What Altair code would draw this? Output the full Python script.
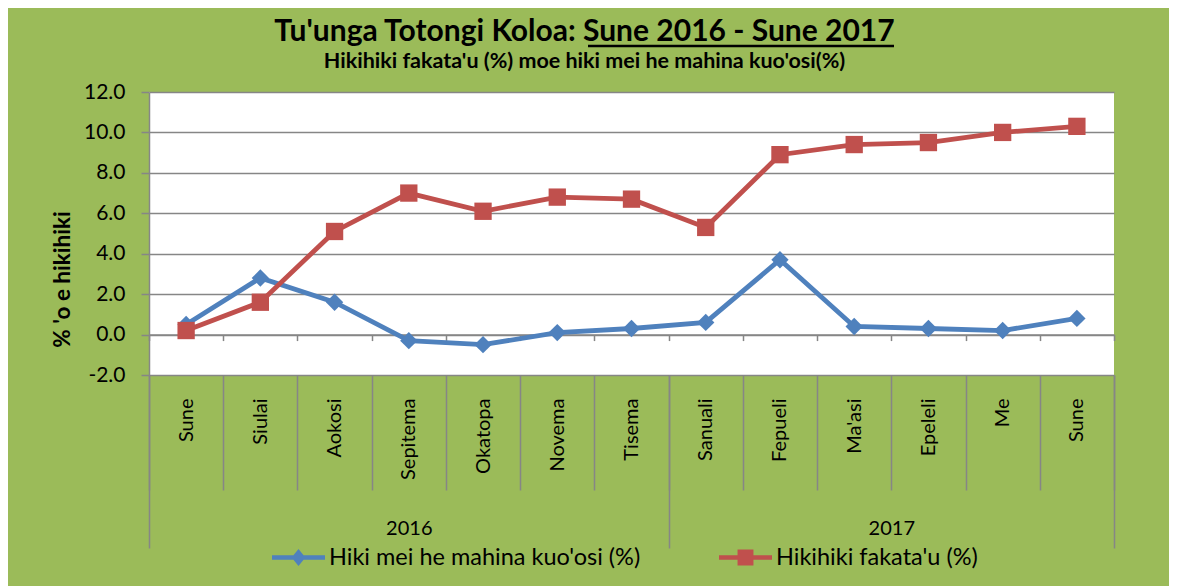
import json
import altair as alt
import pandas as pd

# ---------------- data ----------------
TITLE = "Tu'unga Totongi Koloa: Sune 2016 - Sune 2017"
SUBTITLE = "Hikihiki fakata'u (%) moe hiki mei he mahina kuo'osi(%)"
MONTHS = ["Sune", "Siulai", "Aokosi", "Sepitema", "Okatopa", "Novema", "Tisema",
          "Sanuali", "Fepueli", "Ma'asi", "Epeleli", "Me", "Sune"]
YEARS = ["2016", "2017"]
YEAR_COUNTS = [7, 6]
SERIES = ["Hiki mei he mahina kuo'osi (%)", "Hikihiki fakata'u (%)"]
MONTHLY = [0.5, 2.8, 1.6, -0.3, -0.5, 0.1, 0.3, 0.6, 3.7, 0.4, 0.3, 0.2, 0.8]
ANNUAL = [0.2, 1.6, 5.1, 7.0, 6.1, 6.8, 6.7, 5.3, 8.9, 9.4, 9.5, 10.0, 10.3]
Y_TICKS = [-2, 0, 2, 4, 6, 8, 10, 12]

rows = []
for i, m in enumerate(MONTHS):
    rows.append({"i": i, "month": m, "series": SERIES[0], "value": MONTHLY[i]})
    rows.append({"i": i, "month": m, "series": SERIES[1], "value": ANNUAL[i]})
df = pd.DataFrame(rows)

# ---------------- style ----------------
FONT = "Lato"
GREEN = "#9BBB59"
GRID = "#868686"
COLORS = ["#4F81BD", "#C0504D"]
W, H = 965, 283

n = len(MONTHS)
bounds = [k - 0.5 for k in range(n + 1)]
centers = list(range(n))
month_vals = sorted(bounds + centers)
month_arr = "[" + ",".join(json.dumps(m) for m in MONTHS) + "]"

cum = [-0.5]
for c in YEAR_COUNTS:
    cum.append(cum[-1] + c)
year_centers = [(cum[k] + cum[k + 1]) / 2 for k in range(len(YEARS))]
year_vals = sorted(cum + year_centers)
yc_arr = "[" + ",".join(str(v) for v in year_centers) + "]"
yb_arr = "[" + ",".join(str(v) for v in cum) + "]"
yl_arr = "[" + ",".join(json.dumps(y) for y in YEARS) + "]"

ymin, ymax = Y_TICKS[0], Y_TICKS[-1]
zero_offset = -H * (0 - ymin) / (ymax - ymin)  # lift the axis line up to y = 0

xscale = alt.Scale(domain=[-0.5, n - 0.5], nice=False, zero=False)
yscale = alt.Scale(domain=[ymin, ymax], nice=False, zero=False)
color_scale = alt.Scale(domain=SERIES, range=COLORS)

month_axis = alt.Axis(
    orient="bottom", values=month_vals, grid=False, domain=False,
    tickColor=GRID, tickWidth=1.5,
    tickSize={"condition": {"test": "datum.value % 1 != 0", "value": 115}, "value": 0},
    labelExpr=f"datum.value % 1 == 0 ? {month_arr}[datum.value] : ''",
    labelAngle=-90, labelAlign="right", labelBaseline="middle", labelPadding=23,
    labelFont=FONT, labelFontSize=20, labelColor="black",
    labelOverlap=False, labelBound=False, labelFlush=False, title=None,
)

year_axis = alt.Axis(
    orient="bottom", values=year_vals, grid=False, domain=False,
    tickColor=GRID, tickWidth=1.5,
    tickSize={"condition": {"test": f"indexof({yb_arr}, datum.value) >= 0", "value": 173}, "value": 0},
    labelExpr=f"indexof({yc_arr}, datum.value) >= 0 ? {yl_arr}[indexof({yc_arr}, datum.value)] : ''",
    labelAngle=0, labelAlign="center", labelBaseline="top", labelPadding=143,
    labelFont=FONT, labelFontSize=20, labelColor="black",
    labelOverlap=False, labelBound=False, labelFlush=False, title=None,
)

zero_axis = alt.Axis(
    orient="bottom", values=bounds, grid=False, domain=True, domainColor=GRID,
    domainWidth=1.5, tickColor=GRID, tickWidth=1.5, tickSize=6, labels=False,
    title=None, offset=zero_offset,
)

y_axis = alt.Axis(
    orient="left", values=Y_TICKS, format=".1f", grid=True, gridColor=GRID, gridWidth=1.5,
    domainColor=GRID, domainWidth=1.5, tickColor=GRID, tickWidth=1.5, tickSize=8,
    labelExpr="replace(datum.label, '\u2212', '-')",
    labelFont=FONT, labelFontSize=21, labelColor="black", labelPadding=16,
    title="% 'o e hikihiki", titleFont=FONT, titleFontSize=22.5, titleFontWeight="bold",
    titleColor="black", titleAngle=270, titleX=-87, titleY=187,
    titleAlign="center", titleBaseline="middle",
)

legend = alt.Legend(
    orient="none", legendX=123, legendY=439, direction="horizontal", title=None,
    symbolSize=2809, symbolStrokeWidth=0, symbolOpacity=1, labelFont=FONT,
    labelFontSize=23.5, labelColor="black", labelOffset=4, labelLimit=0,
    columnPadding=78, padding=0,
)

LEG_PATHS = [
    "M-1,-0.085L1,-0.085L1,0.085L-1,0.085Z M0,-0.32L0.26,0L0,0.32L-0.26,0Z",
    "M-1,-0.085L1,-0.085L1,0.085L-1,0.085Z M-0.3,-0.3L0.3,-0.3L0.3,0.3L-0.3,0.3Z",
]

base = alt.Chart(df)

lines = base.mark_line(strokeWidth=4.8).encode(
    x=alt.X("i:Q", scale=xscale, axis=month_axis),
    y=alt.Y("value:Q", scale=yscale, axis=y_axis),
    color=alt.Color("series:N", scale=color_scale, legend=None),
)

markers = base.mark_point(filled=True, size=300, opacity=1).encode(
    x=alt.X("i:Q", scale=xscale, axis=year_axis),
    y=alt.Y("value:Q", scale=yscale, axis=y_axis),
    color=alt.Color("series:N", scale=color_scale, legend=None),
    shape=alt.Shape("series:N", scale=alt.Scale(domain=SERIES, range=["diamond", "square"]), legend=None),
)

leg = base.transform_filter("false").mark_point(filled=True, size=2809, opacity=1).encode(
    x=alt.X("i:Q", scale=xscale, axis=zero_axis),
    y=alt.Y("value:Q", scale=yscale, axis=y_axis),
    color=alt.Color("series:N", scale=color_scale, legend=legend),
    shape=alt.Shape("series:N", scale=alt.Scale(domain=SERIES, range=LEG_PATHS), legend=legend),
)

# chart title, subtitle and the underline of "Sune 2016 - Sune 2017"
title_txt = alt.Chart(pd.DataFrame({"t": [TITLE]})).mark_text(
    font=FONT, fontSize=30, fontWeight="bold", color="black",
    align="center", baseline="middle",
).encode(text="t:N", x=alt.value(435.5), y=alt.value(-60))

subtitle_txt = alt.Chart(pd.DataFrame({"t": [SUBTITLE]})).mark_text(
    font=FONT, fontSize=21.5, fontWeight="bold", color="black",
    align="center", baseline="middle",
).encode(text="t:N", x=alt.value(435.5), y=alt.value(-30))

underline = alt.Chart(pd.DataFrame({"u": [0]})).mark_rule(
    color="black", strokeWidth=2.5
).encode(x=alt.value(439), x2=alt.value(745), y=alt.value(-46))

chart = alt.layer(lines, markers, leg, title_txt, subtitle_txt, underline).resolve_scale(
    shape="independent", color="independent"
).resolve_axis(x="independent").properties(
    width=W, height=H,
    autosize=alt.AutoSizeParams(type="none"),
    padding={"left": 141, "top": 84, "right": 55, "bottom": 211},
    background=GREEN,
).configure_view(stroke=None, fill="white")

chart.save("out.html", embed_options={"renderer": "svg", "actions": False})
